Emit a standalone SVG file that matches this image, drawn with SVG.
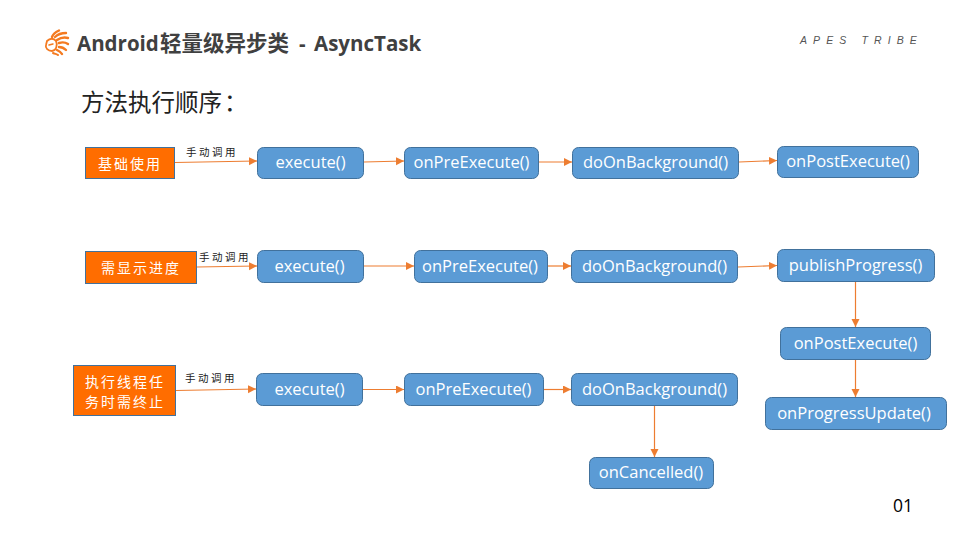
<svg xmlns="http://www.w3.org/2000/svg" width="960" height="540" viewBox="0 0 960 540">
<defs>
<marker id="arrow" markerUnits="userSpaceOnUse" markerWidth="9" markerHeight="9" refX="8" refY="4" orient="auto"><path d="M0,0 L8,4 L0,8 Z" fill="#ed7d31"/></marker>
</defs>
<style>
.m rect{fill:#5b9bd5;stroke:#41719c;stroke-width:1}
.m text{fill:#fff;font:16.500px "Open Sans","Noto Sans CJK SC",sans-serif;text-anchor:middle}
.t rect{fill:#ff6d00;stroke:#41719c;stroke-width:1}
.t text{fill:#fff;font:14px "Noto Sans CJK SC",sans-serif;text-anchor:middle;letter-spacing:2px}
.l{fill:#222;font:10.500px "Noto Sans CJK SC",sans-serif;letter-spacing:2.500px}
.h{font-family:"Open Sans","Noto Sans CJK SC",sans-serif;font-weight:700;fill:#404040}
#connectors path{fill:none;stroke:#ed7d31;stroke-width:1.200;marker-end:url(#arrow)}
</style>
<rect width="960" height="540" fill="#fff"/>
<!-- brand mark: lion head with a fanned mane -->
<g id="logo" fill="none" stroke="#f47a20" stroke-linecap="round">
<path stroke-width="1.800" d="M47,41 C50,38 54,38 56,41 C58,45 56,51 52,51 C48,51 45,48 46,45 Z"/>
<path stroke-width="1.500" d="M49,45 L53,44"/>
<path stroke-width="2.400" d="M52,37 C53,34 56,32 59,30.500"/>
<path stroke-width="2.400" d="M55,37 C58,34 61,33 66,33"/>
<path stroke-width="2.400" d="M57,40 C60,38 64,37 68,38"/>
<path stroke-width="2.400" d="M59,43 C62,42 65,42 68,44"/>
<path stroke-width="2.400" d="M59,47 C62,47 64,48 66,50"/>
<path stroke-width="2.400" d="M57,50 C59,51 61,52 62,54"/>
<path stroke-width="2" d="M53,53 C55,54 57,54 58,55"/>
</g>
<text class="h" x="77" y="51" font-size="20.500">Android</text>
<text class="h" x="160" y="51" font-size="21.500">轻量级异步类</text>
<text class="h" x="299" y="51" font-size="20.500">-</text>
<text class="h" x="314" y="51" font-size="20.500">AsyncTask</text>
<text x="800" y="44" font-family="Liberation Sans, sans-serif" font-size="10.500" font-style="italic" fill="#555" letter-spacing="6.100">APES TRIBE</text>
<text x="81" y="111" font-family="Noto Sans CJK SC, sans-serif" font-size="23.500" fill="#222">方法执行顺序</text>
<text x="224" y="111" font-family="Noto Sans CJK SC, sans-serif" font-size="23.500" fill="#222">：</text>
<g id="connectors">
<path d="M175,162.500L257,161"/><path d="M364,162L404,161"/><path d="M539,162L572,162"/><path d="M739,162L777,160.500"/>
<path d="M197,267L257,266"/><path d="M364,266L414,266"/><path d="M548,266L571,266"/><path d="M738,267L777,265.500"/>
<path d="M855.500,282L855.500,327"/><path d="M855.500,360L855.500,397"/>
<path d="M176,390.500L256,389"/><path d="M363,389.500L404,389.500"/><path d="M544,389.500L571,389.500"/><path d="M654.500,405L654.500,457"/>
</g>
<text class="l" x="186" y="156">手动调用</text>
<text class="l" x="199" y="261">手动调用</text>
<text class="l" x="185" y="382">手动调用</text>
<g id="basic" class="t"><rect x="85.500" y="147.500" width="89" height="31"/><text x="130" y="169">基础使用</text></g>
<g id="progress" class="t"><rect x="85.500" y="251.500" width="111" height="32"/><text x="141" y="273">需显示进度</text></g>
<g id="cancel" class="t"><rect x="73.500" y="365.500" width="102" height="50"/><text x="125" y="387">执行线程任</text><text x="125" y="407">务时需终止</text></g>
<g id="r1a" class="m"><rect x="257.500" y="147.500" width="106" height="31" rx="6"/><text x="310.500" y="168">execute()</text></g>
<g id="r1b" class="m"><rect x="404.500" y="147.500" width="134" height="31" rx="6"/><text x="471.500" y="168">onPreExecute()</text></g>
<g id="r1c" class="m"><rect x="572.500" y="147.500" width="166" height="31" rx="6"/><text x="655.500" y="168">doOnBackground()</text></g>
<g id="r1d" class="m"><rect x="777.500" y="146.500" width="141" height="31" rx="6"/><text x="848" y="167">onPostExecute()</text></g>
<g id="r2a" class="m"><rect x="257.500" y="250.500" width="106" height="32" rx="6"/><text x="309.500" y="272">execute()</text></g>
<g id="r2b" class="m"><rect x="414.500" y="250.500" width="133" height="32" rx="6"/><text x="480" y="272">onPreExecute()</text></g>
<g id="r2c" class="m"><rect x="571.500" y="250.500" width="166" height="32" rx="6"/><text x="654.500" y="272">doOnBackground()</text></g>
<g id="r2d" class="m"><rect x="777.500" y="249.500" width="157" height="32" rx="6"/><text x="855.500" y="271">publishProgress()</text></g>
<g id="r2e" class="m"><rect x="780.500" y="327.500" width="150" height="32" rx="6"/><text x="855.500" y="349">onPostExecute()</text></g>
<g id="r2f" class="m"><rect x="765.500" y="397.500" width="181" height="32" rx="6"/><text x="854" y="419">onProgressUpdate()</text></g>
<g id="r3a" class="m"><rect x="256.500" y="373.500" width="106" height="32" rx="6"/><text x="309.500" y="395">execute()</text></g>
<g id="r3b" class="m"><rect x="404.500" y="373.500" width="139" height="32" rx="6"/><text x="473.500" y="395">onPreExecute()</text></g>
<g id="r3c" class="m"><rect x="571.500" y="373.500" width="166" height="32" rx="6"/><text x="654.500" y="395">doOnBackground()</text></g>
<g id="r3d" class="m"><rect x="589.500" y="457.500" width="124" height="31" rx="6"/><text x="651" y="478">onCancelled()</text></g>
<text x="903" y="512" font-family="Open Sans, sans-serif" font-size="17.500" fill="#000" text-anchor="middle">01</text>
</svg>
